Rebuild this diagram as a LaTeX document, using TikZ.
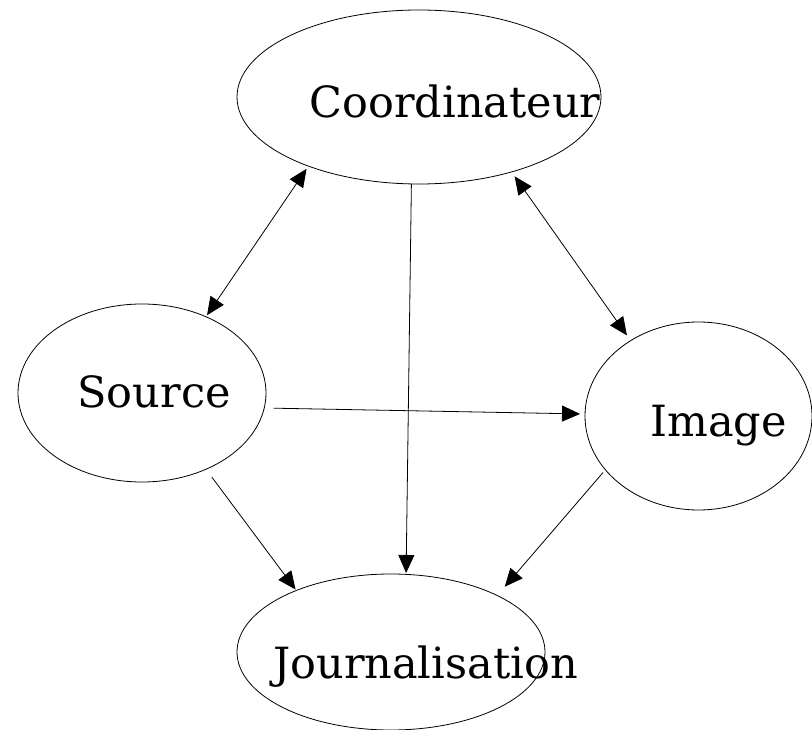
\documentclass[tikz,border=0pt]{standalone}
\usepackage{fontspec}
\setmainfont{DejaVu Serif}
\usetikzlibrary{arrows.meta,shapes.geometric}
\begin{document}
\begin{tikzpicture}[x=1pt,y=-1pt,
  ell/.style={draw,ellipse,inner sep=0pt,outer sep=0pt,line width=0.8pt},
  lbl/.style={anchor=base,inner sep=0pt,font=\fontsize{43}{51}\selectfont},
  tip/.style={Triangle[length=18pt,width=16pt]},
  conn/.style={line width=0.8pt,-{Triangle[length=18pt,width=16pt]}},
  biconn/.style={line width=0.8pt,{Triangle[length=18pt,width=16pt]}-{Triangle[length=18pt,width=16pt]}}]
\useasboundingbox (0,0) rectangle (812,730);
\node[ell,minimum width=364pt,minimum height=174pt] (C) at (419,97) {};
\node[ell,minimum width=248pt,minimum height=178pt] (S) at (142,393) {};
\node[ell,minimum width=227pt,minimum height=188pt] (I) at (698.5,416) {};
\node[ell,minimum width=308pt,minimum height=156pt] (J) at (391,652) {};
\node[lbl] (tC) at (455,118) {Coordinateur};
\node[lbl] (tS) at (154,407) {Source};
\node[lbl] (tI) at (718.5,436) {Image};
\node[lbl] (tJ) at (425.5,678) {Journalisation};
% connectors
\draw[biconn,shorten <=3.3pt,shorten >=1.9pt] (C.212.4) -- (S.50.3);
\draw[biconn,shorten <=5.4pt,shorten >=6.4pt] (C.321.4) -- (I.132.8);
\draw[conn,shorten >=1.4pt] (C.265.4) -- (J.79.5);
\draw[conn,shorten <=9.5pt,shorten >=5pt] (S.353.5) -- (I.179);
\draw[conn,shorten <=9.8pt,shorten >=1.2pt] (S.310) -- (J.147.1);
\draw[conn,shorten <=3.6pt,shorten >=11.6pt] (I.210.8) -- (J.28.1);
\end{tikzpicture}
\end{document}
